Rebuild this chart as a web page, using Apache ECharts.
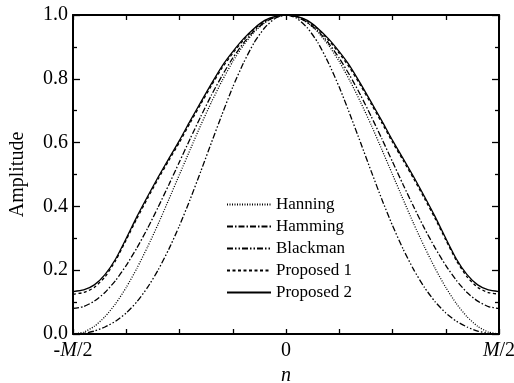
<!DOCTYPE html>
<html>
<head>
<meta charset="utf-8">
<script src="https://cdn.jsdelivr.net/npm/echarts@6/dist/echarts.min.js"></script>
<style>
  html, body { margin: 0; padding: 0; background: #fff; }
  #chart { width: 514px; height: 383px; }
</style>
</head>
<body>
<div id="chart"></div>
<script>
// n / (M/2), from -1 to 1
const xs = [-1, -0.95, -0.9, -0.85, -0.8, -0.75, -0.7, -0.65, -0.6, -0.55, -0.5, -0.45, -0.4, -0.35, -0.3, -0.25, -0.2, -0.15, -0.1, -0.05,
  0, 0.05, 0.1, 0.15, 0.2, 0.25, 0.3, 0.35, 0.4, 0.45, 0.5, 0.55, 0.6, 0.65, 0.7, 0.75, 0.8, 0.85, 0.9, 0.95, 1]

const hanning = [0, 0.006, 0.024, 0.054, 0.095, 0.146, 0.206, 0.273, 0.345, 0.422, 0.5, 0.578, 0.655, 0.727, 0.794, 0.854, 0.905, 0.946, 0.976, 0.994,
  1, 0.994, 0.976, 0.946, 0.905, 0.854, 0.794, 0.727, 0.655, 0.578, 0.5, 0.422, 0.345, 0.273, 0.206, 0.146, 0.095, 0.054, 0.024, 0.006, 0]

const hamming = [0.08, 0.086, 0.103, 0.13, 0.168, 0.215, 0.27, 0.331, 0.398, 0.468, 0.54, 0.612, 0.682, 0.749, 0.81, 0.865, 0.912, 0.95, 0.977, 0.994,
  1, 0.994, 0.977, 0.95, 0.912, 0.865, 0.81, 0.749, 0.682, 0.612, 0.54, 0.468, 0.398, 0.331, 0.27, 0.215, 0.168, 0.13, 0.103, 0.086, 0.08]

const blackman = [0, 0.002, 0.009, 0.022, 0.04, 0.066, 0.101, 0.146, 0.201, 0.266, 0.34, 0.422, 0.51, 0.6, 0.689, 0.774, 0.849, 0.913, 0.96, 0.99,
  1, 0.99, 0.96, 0.913, 0.849, 0.774, 0.689, 0.6, 0.51, 0.422, 0.34, 0.266, 0.201, 0.146, 0.101, 0.066, 0.04, 0.022, 0.009, 0.002, 0]

const proposed1 = [0.125, 0.13, 0.146, 0.179, 0.23, 0.295, 0.362, 0.425, 0.486, 0.544, 0.601, 0.662, 0.721, 0.779, 0.834, 0.88, 0.921, 0.955, 0.981, 0.995,
  1, 0.995, 0.981, 0.955, 0.921, 0.88, 0.834, 0.779, 0.721, 0.662, 0.601, 0.544, 0.486, 0.425, 0.362, 0.295, 0.23, 0.179, 0.146, 0.13, 0.125]

const proposed2 = [0.133, 0.138, 0.154, 0.186, 0.235, 0.3, 0.368, 0.431, 0.492, 0.55, 0.607, 0.668, 0.727, 0.785, 0.84, 0.885, 0.925, 0.958, 0.983, 0.996,
  1, 0.996, 0.983, 0.958, 0.925, 0.885, 0.84, 0.785, 0.727, 0.668, 0.607, 0.55, 0.492, 0.431, 0.368, 0.3, 0.235, 0.186, 0.154, 0.138, 0.133]

const names = ['Hanning', 'Hamming', 'Blackman', 'Proposed 1', 'Proposed 2']
const yTicks = [0, 0.2, 0.4, 0.6, 0.8, 1.0]

const font = 'Liberation Serif'
const chart = echarts.init(document.getElementById('chart'), null, { renderer: 'canvas' })

function makeSeries(name, values, type) {
  return {
    name,
    type: 'line',
    data: xs.map((x, i) => [x, values[i]]),
    symbol: 'none',
    showSymbol: false,
    smooth: 0.2,
    lineStyle: { color: '#000', width: 1.3, type },
    itemStyle: { color: '#000' }
  }
}

const axisCommon = {
  axisLine: { show: true, onZero: false, lineStyle: { color: '#000', width: 2 } },
  splitLine: { show: false }
}

chart.setOption({
  backgroundColor: '#fff',
  animation: false,
  grid: { left: 73, right: 15, top: 15, bottom: 49, outerBoundsMode: 'none', containLabel: false },
  legend: {
    orient: 'vertical',
    left: 221,
    top: 191,
    itemWidth: 44,
    itemHeight: 14,
    itemGap: 5,
    data: names,
    itemStyle: { opacity: 0 },
    textStyle: { fontFamily: font, fontSize: 17, color: '#000' }
  },
  xAxis: [
    Object.assign({}, axisCommon, {
      type: 'value',
      min: -1,
      max: 1,
      interval: 0.25,
      position: 'bottom',
      name: 'n',
      nameLocation: 'middle',
      nameGap: 27,
      nameTextStyle: { fontFamily: font, fontSize: 20, fontStyle: 'italic', color: '#000' },
      axisTick: { show: true, inside: true, length: 5, lineStyle: { color: '#000', width: 1.3 } },
      axisLabel: {
        margin: 7,
        fontFamily: font,
        fontSize: 20,
        color: '#000',
        formatter: v => v === -1 ? '{t|-}{i|M}{t|/2}' : v === 0 ? '{t|0}' : v === 1 ? '{i|M}{t|/2}' : '',
        rich: {
          t: { fontFamily: font, fontSize: 20, color: '#000' },
          i: { fontFamily: font, fontSize: 20, fontStyle: 'italic', color: '#000' }
        }
      }
    }),
    Object.assign({}, axisCommon, {
      type: 'value',
      min: -1,
      max: 1,
      interval: 0.25,
      position: 'top',
      axisTick: { show: true, inside: true, length: 5, lineStyle: { color: '#000', width: 1.3 } },
      axisLabel: { show: false }
    })
  ],
  yAxis: [
    Object.assign({}, axisCommon, {
      type: 'value',
      min: 0,
      max: 1,
      interval: 0.2,
      position: 'left',
      name: 'Amplitude',
      nameLocation: 'middle',
      nameGap: 45,
      nameTextStyle: { fontFamily: font, fontSize: 20, color: '#000' },
      axisTick: { show: true, inside: true, length: 7, lineStyle: { color: '#000', width: 1.3 } },
      minorTick: { show: true, splitNumber: 2, length: 4, lineStyle: { color: '#000', width: 1.3 } },
      axisLabel: {
        margin: 5,
        fontFamily: font,
        fontSize: 20,
        color: '#000',
        formatter: v => yTicks.some(t => Math.abs(t - v) < 1e-6) ? v.toFixed(1) : ''
      }
    }),
    Object.assign({}, axisCommon, {
      type: 'value',
      min: 0,
      max: 1,
      interval: 0.2,
      position: 'right',
      axisTick: { show: true, inside: true, length: 7, lineStyle: { color: '#000', width: 1.3 } },
      minorTick: { show: true, splitNumber: 2, length: 4, lineStyle: { color: '#000', width: 1.3 } },
      axisLabel: { show: false }
    })
  ],
  series: [
    makeSeries('Hanning', hanning, [1, 1.5]),
    makeSeries('Hamming', hamming, [6, 2, 1.5, 2]),
    makeSeries('Blackman', blackman, [6, 2, 1.5, 2, 1.5, 2]),
    makeSeries('Proposed 1', proposed1, [3, 2.5]),
    makeSeries('Proposed 2', proposed2, 'solid')
  ]
})
</script>
</body>
</html>
